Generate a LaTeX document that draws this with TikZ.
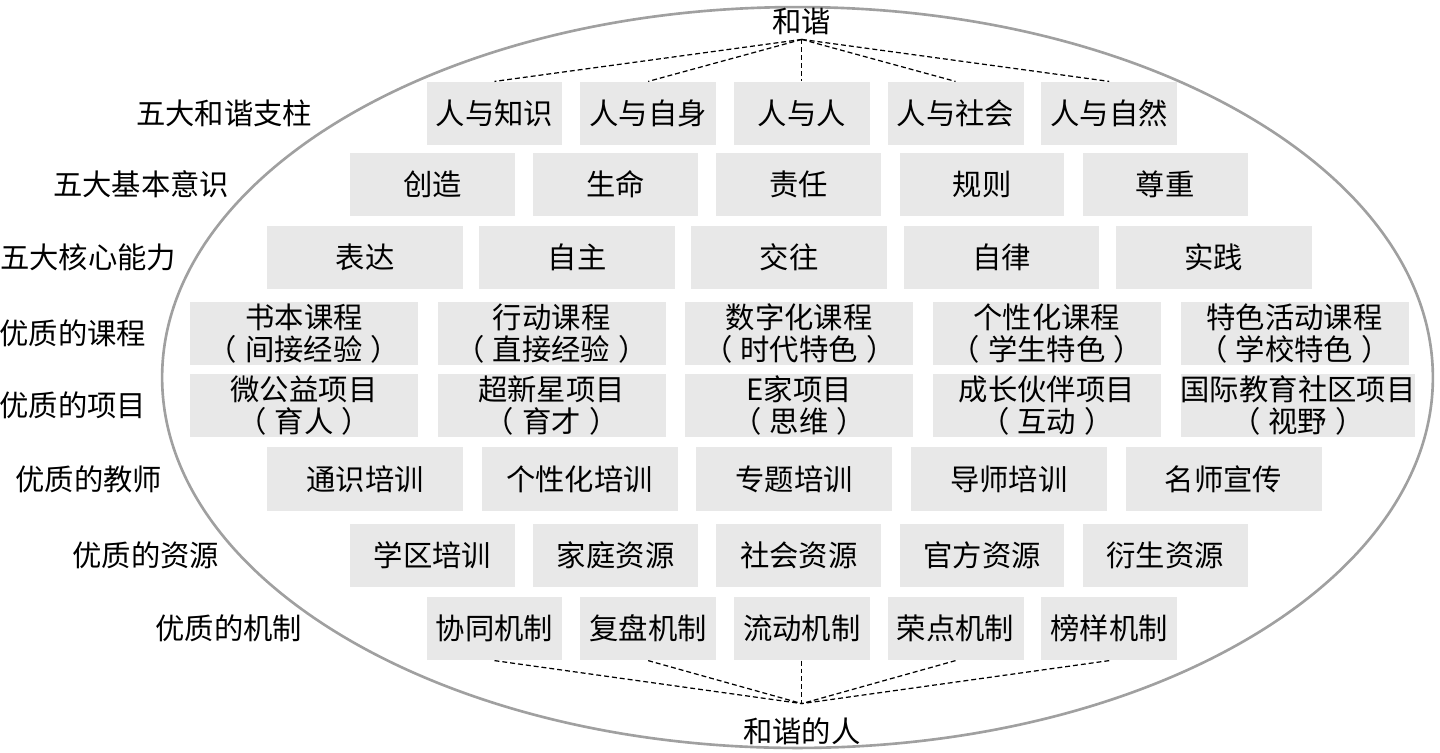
\documentclass[tikz,border=0pt]{standalone}
\usepackage{fontspec}
\setmainfont{Noto Sans CJK SC}
\usetikzlibrary{positioning}

\definecolor{cellgray}{RGB}{232,232,232}
\definecolor{rimgray}{RGB}{160,160,160}

% spaced full-width brackets
\newcommand{\inparen}[1]{（\hspace{0.28em}#1\hspace{0.28em}）}

\begin{document}
\begin{tikzpicture}[
    x=0.02cm, y=-0.02cm,
    cell/.style={
        rectangle,
        fill=cellgray,
        inner sep=0pt,
        minimum height=1.27cm,
        align=center,
        font=\fontsize{16.7}{18.5}\selectfont
    },
    pillar/.style={cell, minimum width=2.72cm},
    sense/.style={cell, minimum width=3.3cm},
    ability/.style={cell, minimum width=3.92cm},
    course/.style={cell, minimum width=4.56cm},
    sidelabel/.style={
        inner sep=0pt,
        font=\fontsize{16.7}{18.5}\selectfont
    },
    rim/.style={draw=rimgray, line width=1.5pt},
    dashlink/.style={
        line width=0.7pt,
        dash pattern=on 2.8pt off 1.7pt
    }
]
    \useasboundingbox (0,0) rectangle (1440,752);

    % OUTER ELLIPSE
    \draw[rim] (797.5,377.5) ellipse [x radius=12.71cm, y radius=7.41cm];

    % FIVE PILLARS
    \node[pillar] (zhishi) at (494.5,113.5) {人与知识};
    \node[pillar] (zishen) [right=0.34cm of zhishi] {人与自身};
    \node[pillar] (renren) [right=0.34cm of zishen] {人与人};
    \node[pillar] (shehui) [right=0.34cm of renren] {人与社会};
    \node[pillar] (ziran) [right=0.34cm of shehui] {人与自然};

    % FIVE BASIC SENSES
    \node[sense] (chuangzao) at (432.5,184.5) {创造};
    \node[sense] (shengming) [right=0.35cm of chuangzao] {生命};
    \node[sense] (zeren) [right=0.35cm of shengming] {责任};
    \node[sense] (guize) [right=0.35cm of zeren] {规则};
    \node[sense] (zunzhong) [right=0.35cm of guize] {尊重};

    % FIVE CORE ABILITIES
    \node[ability] (biaoda) at (365,257.5) {表达};
    \node[ability] (zizhu) [right=0.31cm of biaoda] {自主};
    \node[ability] (jiaowang) [right=0.31cm of zizhu] {交往};
    \node[ability] (zilv) [right=0.31cm of jiaowang] {自律};
    \node[ability] (shijian) [right=0.31cm of zilv] {实践};

    % COURSES
    \node[course] (shuben) at (304,333.5) {书本课程\\\inparen{间接经验}};
    \node[course] (xingdong) [right=0.38cm of shuben] {行动课程\\\inparen{直接经验}};
    \node[course] (shuzi) [right=0.38cm of xingdong] {数字化课程\\\inparen{时代特色}};
    \node[course] (gexing) [right=0.38cm of shuzi] {个性化课程\\\inparen{学生特色}};
    \node[course] (tese) [right=0.38cm of gexing] {特色活动课程\\\inparen{学校特色}};

    % PROJECTS
    \node[course] (weigongyi) at (304,405.5) {微公益项目\\\inparen{育人}};
    \node[course] (chaoxinxing) [right=0.38cm of weigongyi] {超新星项目\\\inparen{育才}};
    \node[course] (ejia) [right=0.38cm of chaoxinxing] {E家项目\\\inparen{思维}};
    \node[course] (chengzhang) [right=0.38cm of ejia] {成长伙伴项目\\\inparen{互动}};
    \node[course] (guoji) [right=0.38cm of chengzhang] {国际教育社区项目\\\inparen{视野}};

    % TEACHERS
    \node[ability] (tongshi) at (365,479) {通识培训};
    \node[ability] (gexingpx) [right=0.36cm of tongshi] {个性化培训};
    \node[ability] (zhuanti) [right=0.36cm of gexingpx] {专题培训};
    \node[ability] (daoshi) [right=0.36cm of zhuanti] {导师培训};
    \node[ability] (mingshi) [right=0.36cm of daoshi] {名师宣传};

    % RESOURCES
    \node[sense] (xuequ) at (432.5,555.5) {学区培训};
    \node[sense] (jiating) [right=0.35cm of xuequ] {家庭资源};
    \node[sense] (shehuizy) [right=0.35cm of jiating] {社会资源};
    \node[sense] (guanfang) [right=0.35cm of shehuizy] {官方资源};
    \node[sense] (yansheng) [right=0.35cm of guanfang] {衍生资源};

    % MECHANISMS
    \node[pillar] (xietong) at (494.5,628.5) {协同机制};
    \node[pillar] (fupan) [right=0.34cm of xietong] {复盘机制};
    \node[pillar] (liudong) [right=0.34cm of fupan] {流动机制};
    \node[pillar] (rongdian) [right=0.34cm of liudong] {荣点机制};
    \node[pillar] (bangyang) [right=0.34cm of rongdian] {榜样机制};

    % ROW LABELS (Left Side)
    \node[sidelabel] (lblpillar) [left=2.27cm of zhishi] {五大和谐支柱};
    \node[sidelabel] (lblsense) [left=2.4cm of chuangzao] {五大基本意识};
    \node[sidelabel] (lblability) [left=1.8cm of biaoda] {五大核心能力};
    \node[sidelabel] (lblcourse) [left=0.86cm of shuben] {优质的课程};
    \node[sidelabel] (lblproject) [left=0.86cm of weigongyi] {优质的项目};
    \node[sidelabel] (lblteacher) [left=2.08cm of tongshi] {优质的教师};
    \node[sidelabel] (lblresource) [left=2.6cm of xuequ] {优质的资源};
    \node[sidelabel] (lblmech) [left=2.47cm of xietong] {优质的机制};

    % TOP AND BOTTOM
    \coordinate[above=0.84cm of renren] (apex);
    \node[sidelabel] (hexie) [above=0.08cm of apex] {和谐};
    \coordinate[below=0.86cm of liudong] (nadir);
    \node[sidelabel] (hexieren) [below=0.28cm of nadir] {和谐的人};

    % DASHED LINKS
    \draw[dashlink] (apex) -- (zhishi.north);
    \draw[dashlink] (apex) -- (zishen.north);
    \draw[dashlink] (apex) -- (renren.north);
    \draw[dashlink] (apex) -- (shehui.north);
    \draw[dashlink] (apex) -- (ziran.north);

    \draw[dashlink] (xietong.south) -- (nadir);
    \draw[dashlink] (fupan.south) -- (nadir);
    \draw[dashlink] (liudong.south) -- (nadir);
    \draw[dashlink] (rongdian.south) -- (nadir);
    \draw[dashlink] (bangyang.south) -- (nadir);

\end{tikzpicture}
\end{document}
